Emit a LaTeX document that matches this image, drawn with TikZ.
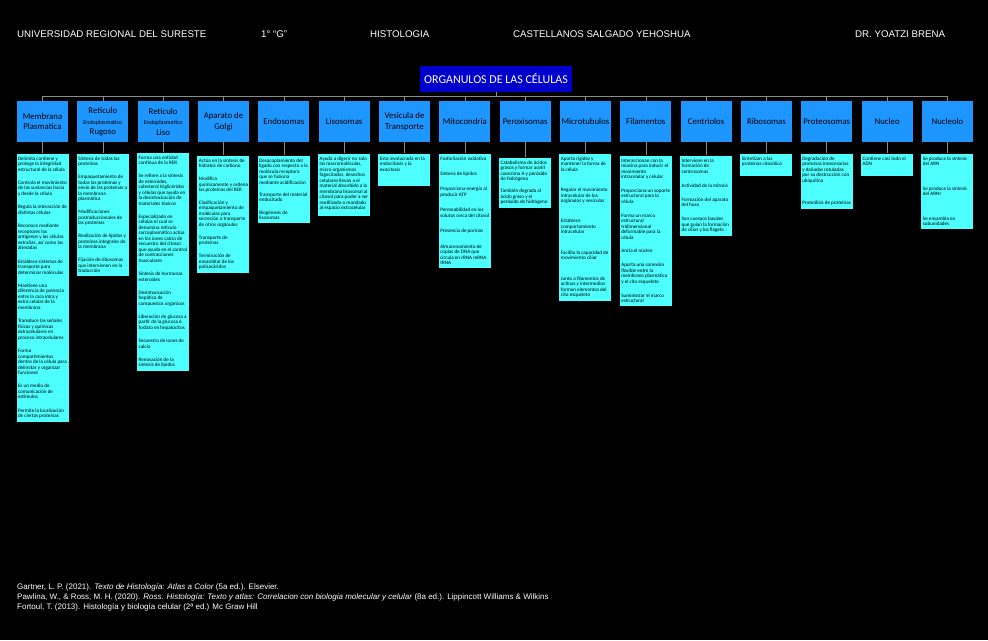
\documentclass[tikz,border=0pt]{standalone}
\usepackage{fontspec}
\setmainfont{Carlito}
\newfontfamily\arialfont{Liberation Sans}
\usetikzlibrary{positioning}
\definecolor{titlebg}{HTML}{0000CC}
\definecolor{orgbg}{HTML}{1E96FF}
\definecolor{fnbg}{HTML}{4DFFFF}
\definecolor{linkc}{HTML}{8C8C8C}
\newcommand{\fnitems}[2]{\parbox[t][#1][t]{49pt}{\raggedright #2\par}}
\newcommand{\nx}{\par\vfill}
\newcommand{\smallorg}{\fontsize{6}{8}\selectfont}
\tikzset{
  header/.style={font=\arialfont\fontsize{9.7}{11}\selectfont,text=white,anchor=west,inner sep=0pt},
  maintitle/.style={fill=titlebg,text=white,minimum width=152pt,minimum height=26pt,
    font=\fontsize{12}{14}\selectfont,inner sep=2pt},
  org/.style={fill=orgbg,text=black,minimum width=51pt,minimum height=41pt,inner sep=1pt,
    align=center,anchor=north,font=\fontsize{8.8}{10.5}\selectfont},
  fn/.style={fill=fnbg,text=black,anchor=north,inner xsep=1.5pt,inner ysep=3pt,
    font=\fontsize{5.1}{5.5}\selectfont},
  link/.style={draw=linkc,line width=0.6pt},
  refline/.style={font=\arialfont\fontsize{8}{9}\selectfont,text=white,anchor=west,inner sep=0pt},
}

\begin{document}
\begin{tikzpicture}[x=1pt,y=-1pt]
  \fill[black] (0,0) rectangle (988,640);
  \useasboundingbox (0,0) rectangle (988,640);
  % --- cabecera ---
  \node[header] (uni)  at (17,34)  {UNIVERSIDAD REGIONAL DEL SURESTE};
  \node[header] (grp)  at (261,34) {1° “G”};
  \node[header] (mat)  at (370,34) {HISTOLOGIA};
  \node[header] (alum) at (513,34) {CASTELLANOS SALGADO YEHOSHUA};
  \node[header] (doc)  at (855,34) {DR. YOATZI BRENA};
  % --- titulo y organulos ---
  \node[maintitle] (titulo) at (496,79) {ORGANULOS DE LAS CÉLULAS};
  \coordinate (bar) at (0,96);
  \foreach \lab [count=\i from 0] in {{Membrana\\Plasmatica},
      {Reticulo\\{\smallorg Endoplasmatico}\\Rugoso},
      {Reticulo\\{\smallorg Endoplasmatico}\\Liso},
      {Aparato de\\Golgi},Endosomas,Lisosomas,{Vesicula de\\Transporte},
      Mitocondria,Peroxisomas,Microtubulos,Filamentos,Centriolos,
      Ribosomas,Proteosomas,Nucleo,Nucleolo}
    \node[org] (org\i) at (42.5+60.33*\i,101) {\lab};
  % --- funciones ---
  \node[fn,below=11pt of org0] (fn0) {\fnitems{262pt}{
    Delimita contiene y protege la integridad estructural de la célula\nx
    Controla el movimiento de las sustancias hacia y desde la célula\nx
    Regula la interacción de distintas células\nx
    Reconoce mediante receptores los antígenos y las células extrañas, así como las alteradas\nx
    Establece sistemas de transporte para determinar moléculas\nx
    Mantiene una diferencia de potencia entre la cara intra y extra celular de la membrana\nx
    Transduce las señales físicas y químicas extracelulares en proceso intracelulares\nx
    Forma compartimientos dentro de la célula para delimitar y organizar funciones\nx
    Es un medio de comunicación de estímulos\nx
    Permite la localización de ciertas proteínas}};
  \node[fn,below=11pt of org1] (fn1) {\fnitems{116pt}{
    Síntesis de todas las proteínas\nx
    Empaquetamiento de todas las proteínas y envío de las proteínas a la membrana plasmática\nx
    Modificaciones postraduccionales de las proteínas\nx
    Realización de lípidos y proteínas integrales de la membrana\nx
    Fijación de ribosomas que intervienen en la traducción}};
  \node[fn,below=10pt of org2] (fn2) {\fnitems{212pt}{
    Forma una entidad continua de la RER\nx
    Se refiere a la síntesis de esteroides, colesterol triglicéridos y células que ayuda en la desintoxicación de materiales tóxicos\nx
    Especializado en células el cual se denomina retículo sarcoplasmático actúa en los iones calcio de secuestro del citosol que ayuda en el control de contracciones musculares\nx
    Síntesis de hormonas esteroides\nx
    Desintoxicación hepática de compuestos orgánicos\nx
    Liberación de glucosa a partir de la glucosa 6 fosfato en hepatocitos\nx
    Secuestro de iones de calcio\nx
    Renovación de la síntesis de lípidos}};
  \node[fn,below=13pt of org3] (fn3) {\fnitems{111pt}{
    Actúa en la síntesis de hidratos de carbono\nx
    Modifica químicamente y ordena las proteínas del RER\nx
    Clasificación y empaquetamiento de moléculas para secreción o transporte de otros orgánulos\nx
    Transporte de proteínas\nx
    Terminación de ensamblar de los polisacáridos}};
  \node[fn,below=13pt of org4] (fn4) {\fnitems{61pt}{
    Desacoplamiento del ligado con respecto a la molécula receptora que se fusiona mediante acidificación\nx
    Transporte del material endocitado\nx
    Biogénesis de lisosomas}};
  \node[fn,below=11pt of org5] (fn5) {\fnitems{56pt}{
    Ayuda a digerir no solo las macromoléculas, micro organismos fagocitados, desechos celulares llevan a el material absorbido a la membrana lisosomal al citosol para poder a ser reutilizado o mandado al espacio extracelular}};
  \node[fn,below=11pt of org6] (fn6) {\fnitems{26pt}{
    Esta involucrada en la endocitosis y la exocitosis}};
  \node[fn,below=11pt of org7] (fn7) {\fnitems{108pt}{
    Fosforilación oxidativa\nx
    Síntesis de lípidos\nx
    Proporciona energía al producir ATP\nx
    Permeabilidad en los solutos cerca del citosol\nx
    Presencia de porinas\nx
    Almacenamiento de copias de DNA que circula en rRNA mRNA tRNA}};
  \node[fn,below=15pt of org8] (fn8) {\fnitems{44pt}{
    Catabolismo de ácidos grasos y formar acetil coenzima A y peróxido de hidrógeno\nx
    También degrada al ácido graso y el peróxido de hidrógeno}};
  \node[fn,below=11pt of org9] (fn9) {\fnitems{141pt}{
    Aporta rigidez y mantener la forma de la célula\nx
    Regular el movimiento intracelular de los orgánulos y vesículas\nx
    Establece comportamiento intracelular\nx
    Facilita la capacidad de movimiento ciliar\nx
    Junto a filamentos de actinas y intermedios forman elementos del cito esqueleto}};
  \node[fn,below=13pt of org10] (fn10) {\fnitems{144pt}{
    Interaccionan con la miosina para inducir el movimiento intracelular y celular\nx
    Proporciona un soporte estructural para la célula\nx
    Forma un marco estructural tridimensional deformable para la célula\nx
    Ancla el núcleo\nx
    Aporta una conexión flexible entre la membrana plasmática y el cito esqueleto\nx
    Suministrar el marco estructural}};
  \node[fn,below=13pt of org11] (fn11) {\fnitems{74pt}{
    Interviene en la formación de centrosomas\nx
    Actividad de la mitosis\nx
    Formación del aparato del huso\nx
    Son cuerpos basales que guían la formación de cilios y los flagelo}};
  \node[fn,below=11pt of org12] (fn12) {\fnitems{16pt}{
    Sintetizan a las proteínas citosólica}};
  \node[fn,below=11pt of org13] (fn13) {\fnitems{49pt}{
    Degradación de proteínas innecesarias y dañadas rotuladas por su destrucción con ubiquitina\nx
    Proteólisis de proteínas}};
  \node[fn,below=11pt of org14] (fn14) {\fnitems{16pt}{
    Contiene casi todo el ADN}};
  \node[fn,below=11pt of org15] (fn15) {\fnitems{69pt}{
    Se produce la síntesis del ARN\nx
    Se produce la síntesis del ARNr\nx
    Se ensambla en subunidades}};
  % --- conectores ---
  \draw[link] (titulo) -- (titulo |- bar);
  \draw[link] (org0.north |- bar) -- (org15.north |- bar);
  \foreach \i in {0,...,15} {
    \draw[link] (org\i.north |- bar) -- (org\i);
    \draw[link] (org\i) -- (fn\i);
  }
  % --- referencias ---
  \node[refline] (ref1) at (17,587) {Gartner, L. P. (2021). \textit{Texto de Histología: Atlas a Color} (5a ed.). Elsevier.};
  \node[refline] (ref2) at (17,597) {Pawlina, W., \& Ross, M. H. (2020). \textit{Ross. Histología: Texto y atlas: Correlacion con biologia molecular y celular} (8a ed.). Lippincott Williams \& Wilkins};
  \node[refline] (ref3) at (17,607) {Fortoul, T. (2013). Histología y biología celular (2ª ed.) Mc Graw Hill};
\end{tikzpicture}
\end{document}
